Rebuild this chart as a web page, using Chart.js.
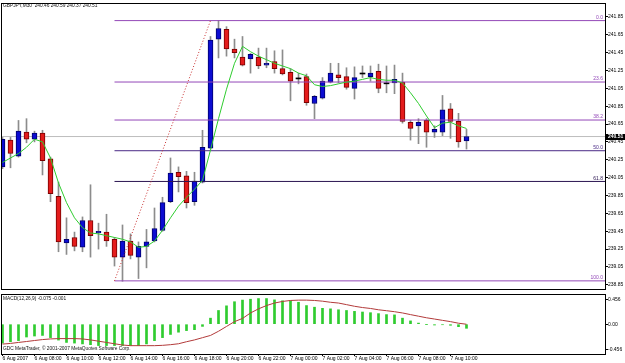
<!DOCTYPE html>
<html><head><meta charset="utf-8">
<script src="https://cdn.jsdelivr.net/npm/chart.js@4.4.0/dist/chart.umd.min.js"></script>
<style>
html,body{margin:0;padding:0;background:#fff;}
#wrap{position:relative;width:625px;height:363px;overflow:hidden;background:#fff;}
#c1{position:absolute;left:0;top:0;}
#c2{position:absolute;left:0;top:291px;}
</style></head><body>
<div id="wrap"><canvas id="c1" width="625" height="292"></canvas><canvas id="c2" width="625" height="72"></canvas></div>
<script>
// ---- data (GBPJPY M30) ----
const opens  = [240.17,240.47,240.29,240.56,240.48,240.55,240.26,239.84,239.32,239.38,239.27,239.57,239.43,239.44,239.36,239.16,239.34,239.16,239.28,239.34,239.46,239.78,240.11,240.07,239.78,240.00,240.38,241.60,241.71,241.49,241.40,241.38,241.40,241.31,241.35,241.27,241.23,241.155,241.18,240.88,240.94,241.12,241.20,241.18,241.05,241.21,241.18,241.24,241.10,241.11,241.12,240.67,240.63,240.69,240.56,240.56,240.82,240.68,240.46];
const highs  = [240.50,240.50,240.69,240.71,240.57,240.58,240.28,240.00,239.60,239.44,239.61,239.97,239.54,239.64,239.38,239.52,239.42,239.33,239.47,239.71,239.83,240.27,240.17,240.12,240.11,240.58,241.63,241.81,241.74,241.60,241.63,241.44,241.50,241.50,241.47,241.48,241.27,241.22,241.21,240.97,241.17,241.33,241.33,241.28,241.29,241.30,241.30,241.32,241.30,241.31,241.22,240.69,240.71,240.71,240.63,240.97,240.88,240.77,240.59];
const lows   = [240.15,240.16,240.28,240.44,240.45,240.08,239.78,239.22,239.19,239.23,239.22,239.16,239.25,239.28,239.06,238.89,239.14,238.92,239.04,239.33,239.45,239.77,239.89,239.71,239.74,239.99,240.37,241.39,241.41,241.39,241.30,241.22,241.27,241.28,241.22,241.20,240.91,241.10,240.86,240.71,240.93,241.11,241.11,241.04,240.93,241.17,241.13,241.00,241.00,240.99,240.66,240.47,240.43,240.39,240.50,240.52,240.49,240.39,240.37];
const closes = [240.48,240.32,240.57,240.48,240.55,240.24,239.87,239.33,239.36,239.28,239.57,239.40,239.45,239.34,239.16,239.34,239.18,239.28,239.33,239.48,239.77,240.10,240.06,239.77,240.01,240.39,241.59,241.72,241.49,241.45,241.31,241.43,241.30,241.33,241.27,241.21,241.13,241.155,240.89,240.96,241.13,241.22,241.17,241.06,241.17,241.21,241.22,241.05,241.10,241.15,240.68,240.60,240.67,240.56,240.59,240.81,240.68,240.45,240.51];
const maValues = [240.22,240.27,240.32,240.39,240.48,240.45,240.27,239.99,239.77,239.60,239.49,239.43,239.42,239.40,239.38,239.36,239.33,239.27,239.28,239.34,239.46,239.60,239.73,239.83,239.92,240.02,240.36,240.71,241.04,241.33,241.52,241.46,241.41,241.37,241.33,241.30,241.27,241.22,241.19,241.09,241.07,241.08,241.10,241.12,241.13,241.15,241.17,241.15,241.14,241.14,241.11,241.00,240.88,240.74,240.61,240.66,240.67,240.63,240.60];
const macdMain = [-0.345,-0.32,-0.30,-0.234,-0.216,-0.205,-0.245,-0.29,-0.333,-0.345,-0.36,-0.374,-0.39,-0.39,-0.39,-0.39,-0.39,-0.39,-0.36,-0.30,-0.245,-0.187,-0.146,-0.117,-0.10,-0.04,0.11,0.25,0.335,0.41,0.44,0.456,0.468,0.468,0.444,0.427,0.427,0.40,0.34,0.31,0.29,0.28,0.263,0.25,0.234,0.222,0.21,0.193,0.175,0.17,0.11,0.06,0.02,-0.005,-0.015,-0.01,-0.02,-0.045,-0.075];
const macdSignal = [-0.363,-0.351,-0.333,-0.316,-0.298,-0.281,-0.269,-0.263,-0.263,-0.263,-0.269,-0.287,-0.31,-0.333,-0.357,-0.38,-0.392,-0.392,-0.392,-0.392,-0.386,-0.374,-0.357,-0.32,-0.287,-0.246,-0.205,-0.129,-0.041,0.047,0.105,0.205,0.28,0.34,0.386,0.415,0.433,0.439,0.439,0.433,0.42,0.40,0.386,0.357,0.327,0.304,0.287,0.263,0.246,0.228,0.205,0.175,0.146,0.117,0.094,0.07,0.047,0.018,-0.001];
const priceTickLabels = ['238.85','239.05','239.25','239.45','239.65','239.85','240.05','240.25','240.45','240.65','240.85','241.05','241.25','241.45','241.65','241.85'];
const macdTickLabels = ['-0.456','0.00','0.456'];
const macdTickValues = [-0.456,0,0.456];
const timeTickIndex = [0,4,8,12,16,20,24,28,32,36,40,44,48,52,56];
const timeTickLabels = ['6 Aug 2007','6 Aug 08:00','6 Aug 10:00','6 Aug 12:00','6 Aug 14:00','6 Aug 16:00','6 Aug 18:00','6 Aug 20:00','6 Aug 22:00','7 Aug 00:00','7 Aug 02:00','7 Aug 04:00','7 Aug 06:00','7 Aug 08:00','7 Aug 10:00'];
const fibRatios = [0,0.236,0.382,0.5,0.618,1];
const fibLabels = ['0.0','23.6','38.2','50.0','61.8','100.0'];
const fibHigh = 241.808, fibLow = 238.894;
const fibStartIdx = 14, fibEndIdx = 26;
const lastPrice = 240.51;
const titleText = 'GBPJPY,M30  240.46 240.59 240.37 240.51';
const macdText = 'MACD(12,26,9) -0.075 -0.001';
const copyText = 'GDC MetaTrader, \u00A9 2001-2007 MetaQuotes Software Corp.';

// ---- styles ----
const FONT = '"Liberation Sans", Arial, sans-serif';
const fibColors = ['#9348B8','#9348B8','#9348B8','#4A2A86','#2A1450','#9348B8'];
const xMin = -0.1875, xMax = 75.3125;
const idx = opens.map((_, i) => i);
const isUp = i => closes[i] > opens[i];
const isDn = i => closes[i] < opens[i];

function frame(chart){
  const {ctx, chartArea:a} = chart;
  ctx.save();
  ctx.strokeStyle = '#000'; ctx.lineWidth = 1;
  const l = Math.floor(a.left)+0.5, t = Math.floor(a.top)+0.5;
  ctx.strokeRect(l, t, Math.floor(a.right)-Math.floor(a.left), Math.floor(a.bottom)-Math.floor(a.top));
  ctx.restore();
}

const decor1 = {
  id:'decor1',
  afterDatasetsDraw(chart){
    const {ctx, chartArea:a, scales:{y}} = chart;
    ctx.save();
    ctx.font = '5px ' + FONT;
    ctx.textAlign = 'right'; ctx.textBaseline = 'bottom';
    fibRatios.forEach((r,k)=>{
      const py = y.getPixelForValue(fibHigh - r*(fibHigh-fibLow));
      ctx.fillStyle = fibColors[k];
      ctx.fillText(fibLabels[k], a.right - 2, py - 0.5);
    });
    ctx.restore();
  },
  afterDraw(chart){
    const {ctx, chartArea:a, scales:{y}} = chart;
    frame(chart);
    ctx.save();
    ctx.font = '4.8px ' + FONT;
    ctx.fillStyle = '#111';
    ctx.textAlign = 'left'; ctx.textBaseline = 'middle';
    ctx.fillText(titleText, 3, 5.5);
    const py = y.getPixelForValue(lastPrice);
    ctx.fillStyle = '#000';
    ctx.fillRect(a.right + 1, Math.round(py) - 3, 19, 6);
    ctx.fillStyle = '#fff';
    ctx.font = 'bold 5px ' + FONT;
    ctx.fillText(String(lastPrice.toFixed(2)), a.right + 3, Math.round(py));
    ctx.restore();
  }
};

const decor2 = {
  id:'decor2',
  afterDraw(chart){
    const {ctx} = chart;
    frame(chart);
    ctx.save();
    ctx.font = '4.8px ' + FONT;
    ctx.fillStyle = '#111';
    ctx.textAlign = 'left'; ctx.textBaseline = 'middle';
    ctx.fillText(macdText, 3, 7.5);
    ctx.fillText(copyText, 3, 58);
    ctx.restore();
  }
};

const hline = v => [{x:xMin, y:v},{x:xMax, y:v}];

new Chart(document.getElementById('c1'), {
  type:'bar',
  data:{ datasets:[
    { type:'line', data:hline(lastPrice), borderColor:'#BDBDBD', borderWidth:1, pointRadius:0, order:20 },
    { type:'bar', data: idx.map(i=>({x:i, y:[lows[i], highs[i]]})), backgroundColor:'#8C8C8C', barThickness:1, grouped:false, order:12 },
    { type:'bar', data: idx.map(i=>({x:i, y:[opens[i], closes[i]]})),
      backgroundColor: c => isUp(c.dataIndex) ? '#0C0CD2' : (isDn(c.dataIndex) ? '#E41C1C' : '#000'),
      borderColor: c => isUp(c.dataIndex) ? '#00006E' : (isDn(c.dataIndex) ? '#7A0000' : '#000'),
      borderWidth: c => (isUp(c.dataIndex) || isDn(c.dataIndex)) ? 1 : 0,
      borderSkipped:false, barThickness:5, minBarLength:1, grouped:false, order:11 },
    ...fibRatios.map((r,k)=>({ type:'line', data:[{x:fibStartIdx, y:fibHigh - r*(fibHigh-fibLow)},{x:xMax, y:fibHigh - r*(fibHigh-fibLow)}], borderColor:fibColors[k], borderWidth:1, pointRadius:0, order:6 })),
    { type:'line', data:[{x:fibStartIdx, y:fibLow},{x:fibEndIdx, y:fibHigh}], borderColor:'#C83030', borderWidth:1, borderDash:[1,2], pointRadius:0, order:5 },
    { type:'line', data: idx.map(i=>({x:i, y:maValues[i]})), borderColor:'#2ECC2E', borderWidth:1, pointRadius:0, tension:0, order:3 }
  ]},
  options:{
    responsive:false, animation:false, devicePixelRatio:1,
    layout:{ padding:{ left:1, top:1, right:0, bottom:2 } },
    plugins:{ legend:{display:false}, tooltip:{enabled:false} },
    scales:{
      x:{ type:'linear', min:xMin, max:xMax, offset:false, display:false, grid:{offset:false} },
      y:{ position:'right', min:238.803, max:242.005, beginAtZero:false,
          afterBuildTicks: s => { s.ticks = priceTickLabels.map(t=>({value:parseFloat(t)})); },
          afterFit: s => { s.width = 20; },
          ticks:{ callback:(v,i)=>priceTickLabels[i], font:{family:FONT, size:5}, color:'#000', padding:0, autoSkip:false },
          grid:{ drawOnChartArea:false, drawTicks:true, tickLength:3, color:'#000' },
          border:{ display:false } }
    }
  },
  plugins:[decor1]
});

new Chart(document.getElementById('c2'), {
  type:'bar',
  data:{ datasets:[
    { type:'bar', data: idx.map(i=>({x:i, y:macdMain[i]})), backgroundColor:'#2FCC2F', barThickness:2, grouped:false, order:5 },
    { type:'line', data: idx.map(i=>({x:i, y:macdSignal[i]})), borderColor:'#B23A3A', borderWidth:1, pointRadius:0, tension:0, order:1 }
  ]},
  options:{
    responsive:false, animation:false, devicePixelRatio:1,
    layout:{ padding:{ left:1, top:0, right:0, bottom:0 } },
    plugins:{ legend:{display:false}, tooltip:{enabled:false} },
    scales:{
      x:{ type:'linear', min:xMin, max:xMax, offset:false, position:'bottom',
          afterBuildTicks: s => { s.ticks = timeTickIndex.map(v=>({value:v})); },
          afterFit: s => { s.height = 9; },
          ticks:{ callback:(v,i)=>timeTickLabels[i], align:'start', maxRotation:0, minRotation:0, autoSkip:false, font:{family:FONT, size:5}, color:'#000', padding:0 },
          grid:{ offset:false, drawOnChartArea:false, drawTicks:true, tickLength:2, color:'#000' },
          border:{ display:false } },
      y:{ position:'right', min:-0.544, max:0.551, beginAtZero:false,
          afterBuildTicks: s => { s.ticks = macdTickValues.map(v=>({value:v})); },
          afterFit: s => { s.width = 20; },
          ticks:{ callback:(v,i)=>macdTickLabels[i], font:{family:FONT, size:5}, color:'#000', padding:0, autoSkip:false },
          grid:{ drawOnChartArea:false, drawTicks:true, tickLength:3, color:'#000' },
          border:{ display:false } }
    }
  },
  plugins:[decor2]
});
</script>
</body></html>
